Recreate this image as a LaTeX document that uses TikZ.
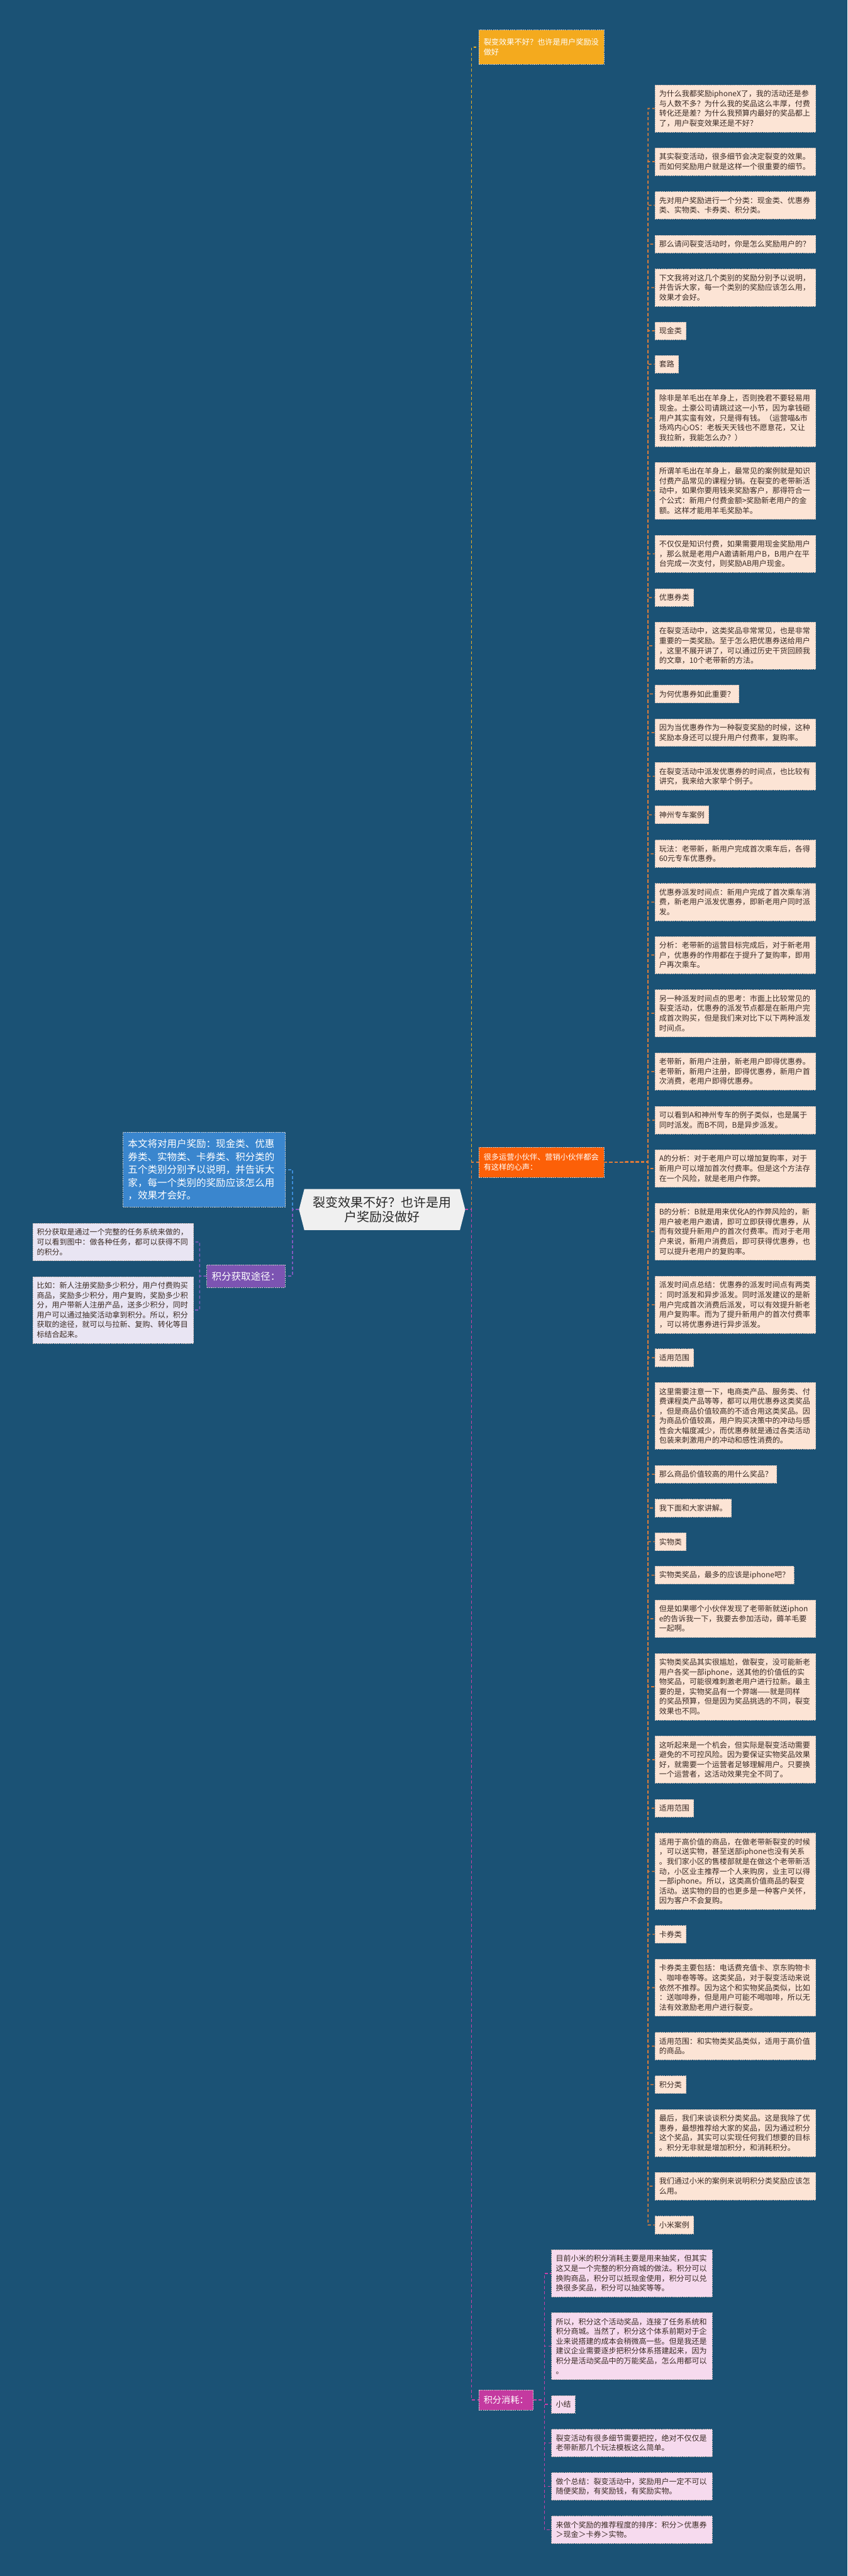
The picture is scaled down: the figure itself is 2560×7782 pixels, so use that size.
\documentclass[tikz,border=0pt]{standalone}
\usepackage{fontspec}
\setmainfont{Noto Sans CJK SC}
\usetikzlibrary{shapes.symbols}
\definecolor{bgc}{RGB}{27,82,117}
\definecolor{peach}{RGB}{252,228,213}
\definecolor{leafbd}{RGB}{196,182,176}
\definecolor{leaftxt}{RGB}{58,42,36}
\definecolor{oline}{RGB}{222,125,58}
\definecolor{onode}{RGB}{252,96,8}
\definecolor{ynode}{RGB}{244,170,30}
\definecolor{yline}{RGB}{230,175,40}
\definecolor{mline}{RGB}{200,64,168}
\definecolor{mnode}{RGB}{196,58,160}
\definecolor{pinkleaf}{RGB}{246,218,238}
\definecolor{pline}{RGB}{128,90,190}
\definecolor{pnode}{RGB}{124,84,178}
\definecolor{lav}{RGB}{233,229,243}
\definecolor{bline}{RGB}{60,140,215}
\definecolor{bnode}{RGB}{58,134,206}
\definecolor{cfill}{RGB}{240,240,240}
\definecolor{ctext}{RGB}{40,40,40}
\tikzset{
  leaf/.style={draw=leafbd, dash pattern=on 2pt off 1.2pt, line width=0.6pt, fill=peach, text=leaftxt,
    font=\fontsize{11.4pt}{14.8pt}\selectfont, align=left, inner xsep=6.5pt, inner ysep=0pt,
    anchor=north west, minimum height={(14.8*#1+12)*1pt}},
  wide/.style={text width=230pt},
  pinkl/.style={leaf=#1, fill=pinkleaf},
  lavl/.style={leaf=#1, fill=lav},
  ltwo/.style={font=\fontsize{14.75pt}{19.5pt}\selectfont, text=white, align=left, inner xsep=7.5pt,
    inner ysep=0pt, draw=white!60!gray, dash pattern=on 2pt off 1.2pt, line width=0.6pt},
  ltwosmall/.style={ltwo, font=\fontsize{11.6pt}{15pt}\selectfont},
  conn/.style={line width=1.5pt, dash pattern=on 4.5pt off 3.5pt},
}
\begin{document}
\begin{tikzpicture}[x=0.5pt,y=-0.5pt]
\fill[bgc] (0,0) rectangle (2560,7782);
\useasboundingbox (0,0) rectangle (2560,7782);

% central node
\node[signal, signal to=east and west, signal pointer angle=151, fill=cfill, text=ctext,
  minimum width=251pt, minimum height=62pt, inner sep=0pt, align=center,
  font=\fontsize{19pt}{21.5pt}\selectfont] (center) at (1154,3654) {裂变效果不好？也许是用\\户奖励没做好};

\coordinate (trunkR) at (1424,3654);
\coordinate (trunkL) at (883,3654);

% level two nodes
\node[ltwosmall, fill=ynode, anchor=north west, minimum height=52pt] (topn) at (1445,90) {裂变效果不好？也许是用户奖励没\\做好};
\node[ltwosmall, fill=onode, anchor=north west, minimum height=45.5pt] (orangen) at (1445,3465) {很多运营小伙伴、营销小伙伴都会\\有这样的心声：};
\node[ltwo, fill=mnode, anchor=west, minimum height=30pt, font=\fontsize{13.5pt}{18pt}\selectfont] (magn) at (1445,7250) {积分消耗：};
\node[ltwo, fill=bnode, anchor=north west, text width=230pt, minimum height=113pt] (bluen) at (371,3420) {本文将对用户奖励：现金类、优惠\\券类、实物类、卡券类、积分类的\\五个类别分别予以说明，并告诉大\\家，每一个类别的奖励应该怎么用\\，效果才会好。};
\node[ltwo, fill=pnode, anchor=north west, minimum height=34.5pt] (purplen) at (624,3820) {积分获取途径：};

% trunk connectors
\draw[conn, yline] (center.east) -- (trunkR) |- (topn.west);
\draw[conn, oline] (center.east) -- (trunkR) |- (orangen.west);
\draw[conn, mline] (center.east) -- (trunkR) |- (magn.west);
\draw[conn, bline] (center.west) -- (trunkL) |- (bluen.east);
\draw[conn, pline] (center.west) -- (trunkL) |- (purplen.east);

% right column leaves
\node[leaf=4, wide] (r1) at (1977,256) {为什么我都奖励iphoneX了，我的活动还是参\\与人数不多？为什么我的奖品这么丰厚，付费\\转化还是差？为什么我预算内最好的奖品都上\\了，用户裂变效果还是不好？};
\node[leaf=2, wide] (r2) at (1977,446) {其实裂变活动，很多细节会决定裂变的效果。\\而如何奖励用户就是这样一个很重要的细节。};
\node[leaf=2, wide] (r3) at (1977,578) {先对用户奖励进行一个分类：现金类、优惠券\\类、实物类、卡券类、积分类。};
\node[leaf=1, wide] (r4) at (1977,710) {那么请问裂变活动时，你是怎么奖励用户的？};
\node[leaf=3, wide] (r5) at (1977,812) {下文我将对这几个类别的奖励分别予以说明，\\并告诉大家，每一个类别的奖励应该怎么用，\\效果才会好。};
\node[leaf=1] (r6) at (1977,972) {现金类};
\node[leaf=1] (r7) at (1977,1073) {套路};
\node[leaf=5, wide] (r8) at (1977,1176) {除非是羊毛出在羊身上，否则挽君不要轻易用\\现金。土豪公司请跳过这一小节，因为拿钱砸\\用户其实蛮有效，只是得有钱。（运营喵\&市\\场鸡内心OS：老板天天钱也不愿意花，又让\\我拉新，我能怎么办？）};
\node[leaf=5, wide] (r9) at (1977,1396) {所谓羊毛出在羊身上，最常见的案例就是知识\\付费产品常见的课程分销。在裂变的老带新活\\动中，如果你要用钱来奖励客户，那得符合一\\个公式：新用户付费金额>奖励新老用户的金\\额。这样才能用羊毛奖励羊。};
\node[leaf=3, wide] (r10) at (1977,1616) {不仅仅是知识付费，如果需要用现金奖励用户\\，那么就是老用户A邀请新用户B，B用户在平\\台完成一次支付，则奖励AB用户现金。};
\node[leaf=1] (r11) at (1977,1778) {优惠券类};
\node[leaf=4, wide] (r12) at (1977,1879) {在裂变活动中，这类奖品非常常见，也是非常\\重要的一类奖励。至于怎么把优惠券送给用户\\，这里不展开讲了，可以通过历史干货回顾我\\的文章，10个老带新的方法。};
\node[leaf=1] (r13) at (1977,2069) {为何优惠券如此重要？};
\node[leaf=2, wide] (r14) at (1977,2171) {因为当优惠券作为一种裂变奖励的时候，这种\\奖励本身还可以提升用户付费率，复购率。};
\node[leaf=2, wide] (r15) at (1977,2303) {在裂变活动中派发优惠券的时间点，也比较有\\讲究，我来给大家举个例子。};
\node[leaf=1] (r16) at (1977,2434) {神州专车案例};
\node[leaf=2, wide] (r17) at (1977,2537) {玩法：老带新，新用户完成首次乘车后，各得\\60元专车优惠券。};
\node[leaf=3, wide] (r18) at (1977,2668) {优惠券派发时间点：新用户完成了首次乘车消\\费，新老用户派发优惠券，即新老用户同时派\\发。};
\node[leaf=3, wide] (r19) at (1977,2828) {分析：老带新的运营目标完成后，对于新老用\\户，优惠券的作用都在于提升了复购率，即用\\户再次乘车。};
\node[leaf=4, wide] (r20) at (1977,2989) {另一种派发时间点的思考：市面上比较常见的\\裂变活动，优惠券的派发节点都是在新用户完\\成首次购买，但是我们来对比下以下两种派发\\时间点。};
\node[leaf=3, wide] (r21) at (1977,3180) {老带新，新用户注册，新老用户即得优惠券。\\老带新，新用户注册，即得优惠券，新用户首\\次消费，老用户即得优惠券。};
\node[leaf=2, wide] (r22) at (1977,3342) {可以看到A和神州专车的例子类似，也是属于\\同时派发。而B不同，B是异步派发。};
\node[leaf=3, wide] (r23) at (1977,3473) {A的分析：对于老用户可以增加复购率，对于\\新用户可以增加首次付费率。但是这个方法存\\在一个风险，就是老用户作弊。};
\node[leaf=5, wide] (r24) at (1977,3634) {B的分析：B就是用来优化A的作弊风险的，新\\用户被老用户邀请，即可立即获得优惠券，从\\而有效提升新用户的首次付费率。而对于老用\\户来说，新用户消费后，即可获得优惠券，也\\可以提升老用户的复购率。};
\node[leaf=5, wide] (r25) at (1977,3855) {派发时间点总结：优惠券的派发时间点有两类\\：同时派发和异步派发。同时派发建议的是新\\用户完成首次消费后派发，可以有效提升新老\\用户复购率。而为了提升新用户的首次付费率\\，可以将优惠券进行异步派发。};
\node[leaf=1] (r26) at (1977,4074) {适用范围};
\node[leaf=6, wide] (r27) at (1977,4176) {这里需要注意一下，电商类产品、服务类、付\\费课程类产品等等，都可以用优惠券这类奖品\\，但是商品价值较高的不适合用这类奖品。因\\为商品价值较高，用户购买决策中的冲动与感\\性会大幅度减少，而优惠券就是通过各类活动\\包装来刺激用户的冲动和感性消费的。};
\node[leaf=1] (r28) at (1977,4426) {那么商品价值较高的用什么奖品？};
\node[leaf=1] (r29) at (1977,4528) {我下面和大家讲解。};
\node[leaf=1] (r30) at (1977,4630) {实物类};
\node[leaf=1] (r31) at (1977,4731) {实物类奖品，最多的应该是iphone吧？};
\node[leaf=3, wide] (r32) at (1977,4833) {但是如果哪个小伙伴发现了老带新就送iphon\\e的告诉我一下，我要去参加活动，薅羊毛要\\一起啊。};
\node[leaf=6, wide] (r33) at (1977,4994) {实物类奖品其实很尴尬，做裂变，没可能新老\\用户各奖一部iphone，送其他的价值低的实\\物奖品，可能很难刺激老用户进行拉新。最主\\要的是，实物奖品有一个弊端——就是同样\\的奖品预算，但是因为奖品挑选的不同，裂变\\效果也不同。};
\node[leaf=4, wide] (r34) at (1977,5244) {这听起来是一个机会，但实际是裂变活动需要\\避免的不可控风险。因为要保证实物奖品效果\\好，就需要一个运营者足够理解用户。只要换\\一个运营者，这活动效果完全不同了。};
\node[leaf=1] (r35) at (1977,5435) {适用范围};
\node[leaf=7, wide] (r36) at (1977,5537) {适用于高价值的商品，在做老带新裂变的时候\\，可以送实物，甚至送部iphone也没有关系\\。我们家小区的售楼部就是在做这个老带新活\\动，小区业主推荐一个人来购房，业主可以得\\一部iphone。所以，这类高价值商品的裂变\\活动。送实物的目的也更多是一种客户关怀，\\因为客户不会复购。};
\node[leaf=1] (r37) at (1977,5816) {卡券类};
\node[leaf=5, wide] (r38) at (1977,5918) {卡券类主要包括：电话费充值卡、京东购物卡\\、咖啡卷等等。这类奖品，对于裂变活动来说\\依然不推荐。因为这个和实物奖品类似，比如\\：送咖啡券，但是用户可能不喝咖啡，所以无\\法有效激励老用户进行裂变。};
\node[leaf=2, wide] (r39) at (1977,6139) {适用范围：和实物类奖品类似，适用于高价值\\的商品。};
\node[leaf=1] (r40) at (1977,6270) {积分类};
\node[leaf=4, wide] (r41) at (1977,6372) {最后，我们来谈谈积分类奖品。这是我除了优\\惠券，最想推荐给大家的奖品，因为通过积分\\这个奖品，其实可以实现任何我们想要的目标\\。积分无非就是增加积分，和消耗积分。};
\node[leaf=2, wide] (r42) at (1977,6562) {我们通过小米的案例来说明积分类奖励应该怎\\么用。};
\node[leaf=1] (r43) at (1977,6694) {小米案例};

\coordinate (spineO) at (1957,3510);
\foreach \i in {1,...,43} \draw[conn, oline] (orangen.east) -- (spineO) |- (r\i.west);

% left leaves
\node[lavl=3, wide] (a1) at (98,3695) {积分获取是通过一个完整的任务系统来做的，\\可以看到图中：做各种任务，都可以获得不同\\的积分。};
\node[lavl=6, wide] (a2) at (98,3856) {比如：新人注册奖励多少积分，用户付费购买\\商品，奖励多少积分，用户复购，奖励多少积\\分，用户带新人注册产品，送多少积分，同时\\用户可以通过抽奖活动拿到积分。所以，积分\\获取的途径，就可以与拉新、复购、转化等目\\标结合起来。};
\coordinate (spineP) at (603,3855);
\foreach \i in {1,2} \draw[conn, pline] (purplen.west) -- (spineP) |- (a\i.east);

% bottom branch leaves
\node[pinkl=4, wide] (p1) at (1665,6796) {目前小米的积分消耗主要是用来抽奖，但其实\\这又是一个完整的积分商城的做法。积分可以\\换购商品，积分可以抵现金使用，积分可以兑\\换很多奖品，积分可以抽奖等等。};
\node[pinkl=6, wide] (p2) at (1665,6986) {所以，积分这个活动奖品，连接了任务系统和\\积分商城。当然了，积分这个体系前期对于企\\业来说搭建的成本会稍微高一些。但是我还是\\建议企业需要逐步把积分体系搭建起来，因为\\积分是活动奖品中的万能奖品，怎么用都可以\\。};
\node[pinkl=1] (p3) at (1665,7236) {小结};
\node[pinkl=2, wide] (p4) at (1665,7338) {裂变活动有很多细节需要把控，绝对不仅仅是\\老带新那几个玩法模板这么简单。};
\node[pinkl=2, wide] (p5) at (1665,7469) {做个总结：裂变活动中，奖励用户一定不可以\\随便奖励，有奖励钱，有奖励实物。};
\node[pinkl=2, wide] (p6) at (1665,7600) {来做个奖励的推荐程度的排序：积分＞优惠券\\＞现金＞卡券＞实物。};
\coordinate (spineM) at (1644,7250);
\foreach \i in {1,...,6} \draw[conn, mline] (magn.east) -- (spineM) |- (p\i.west);

\end{tikzpicture}
\end{document}
